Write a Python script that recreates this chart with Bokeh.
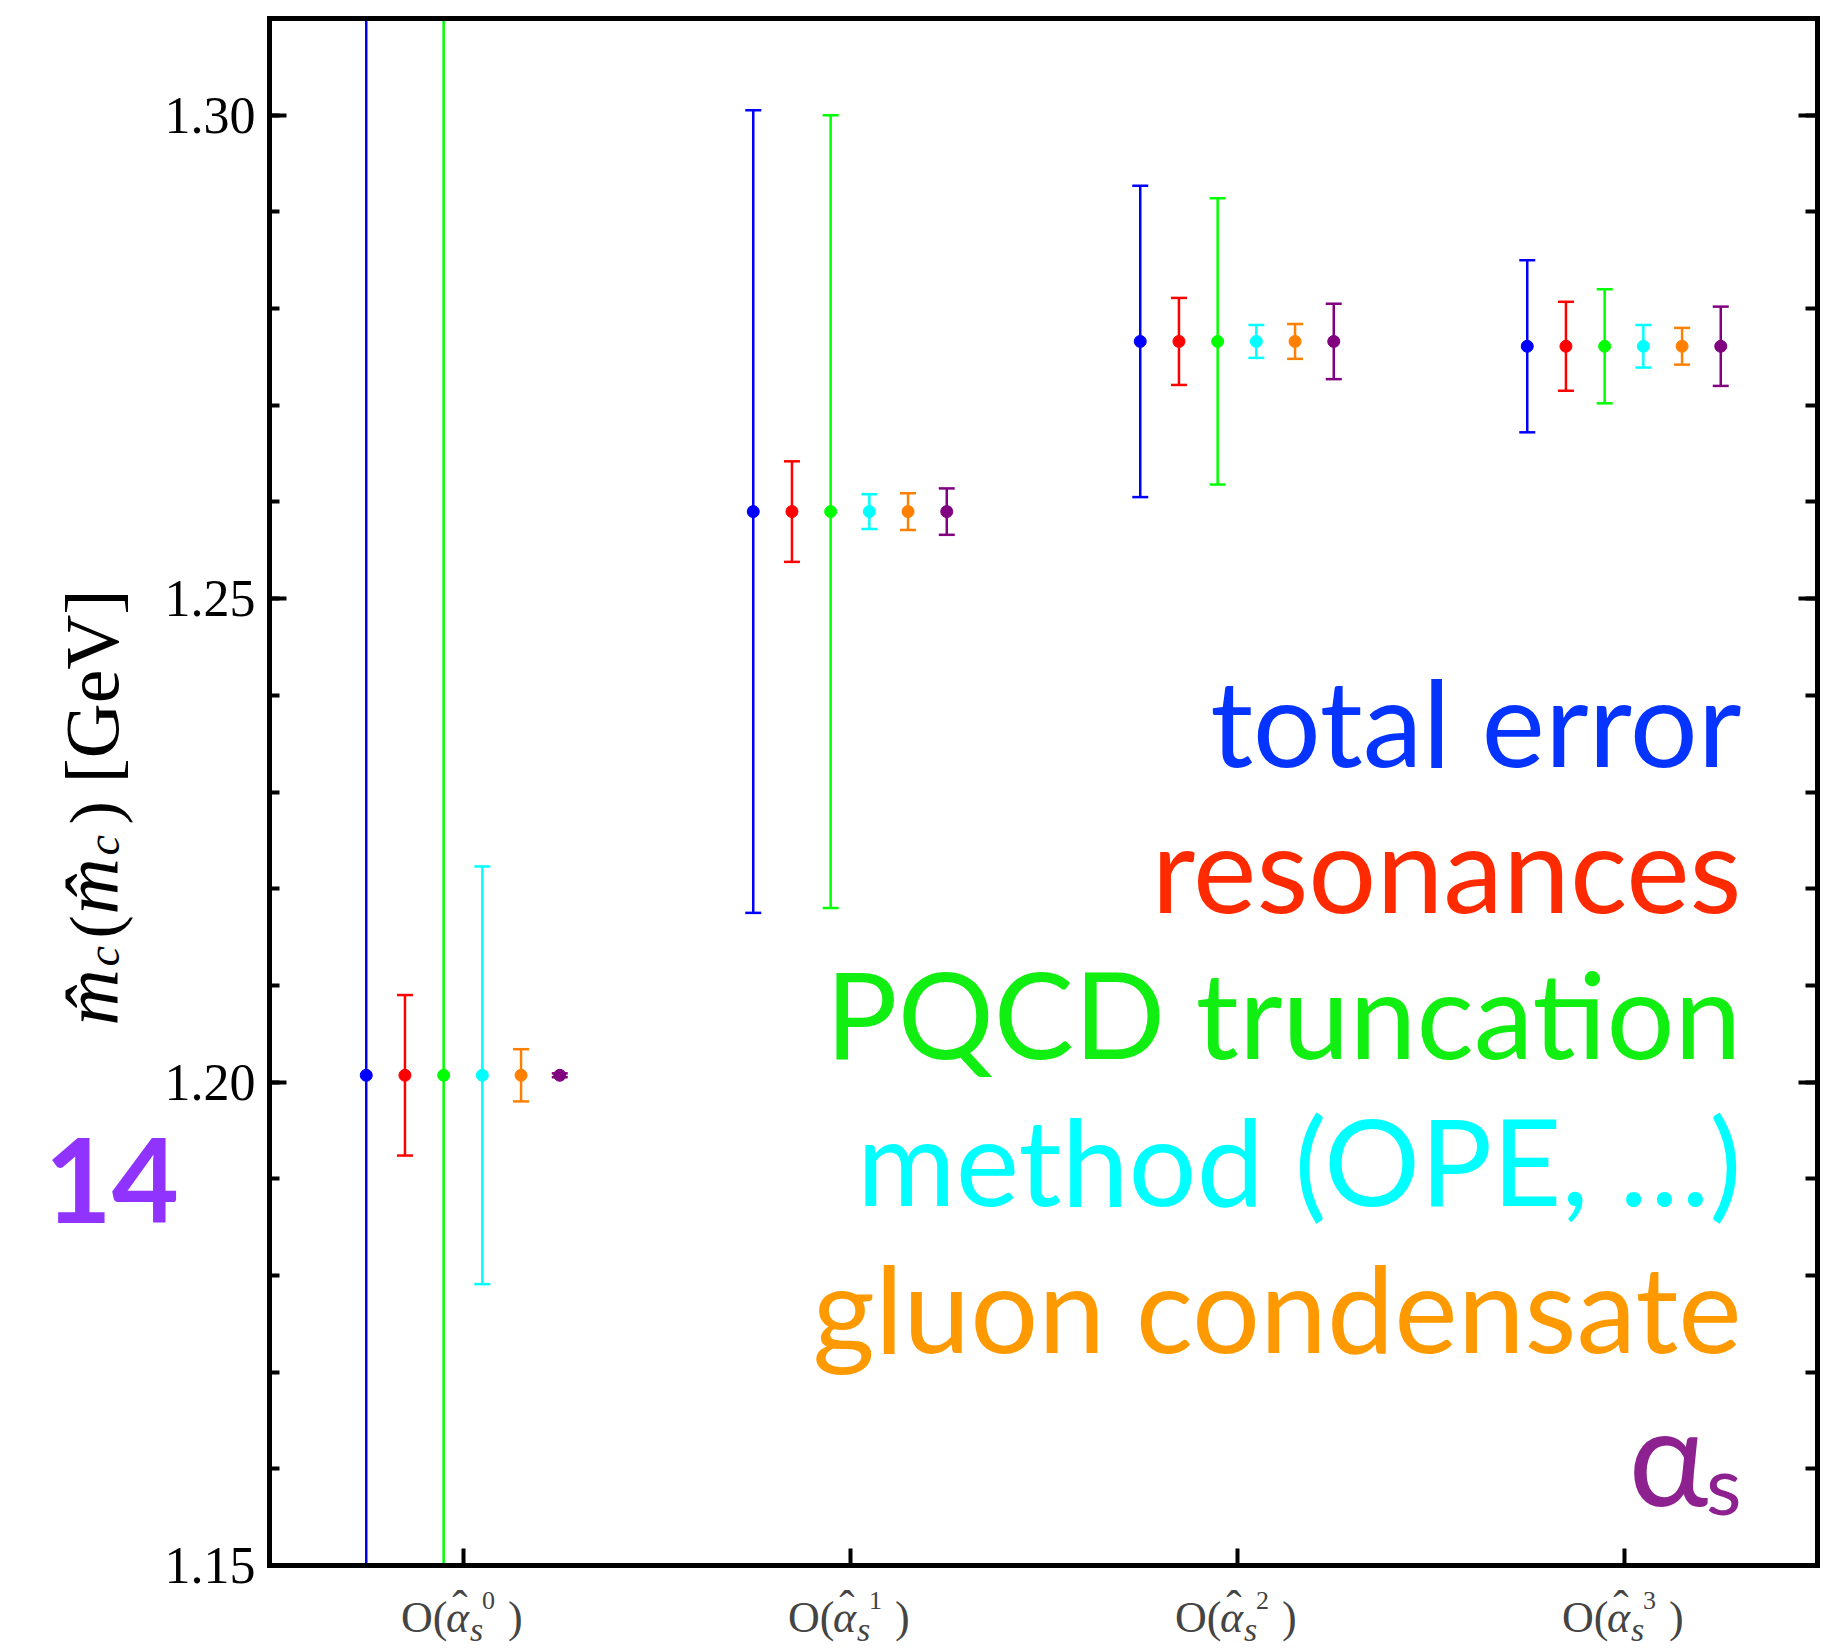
import math
from bokeh.plotting import figure
from bokeh.models import (Range1d, LinearAxis, FixedTicker, Label, ColumnDataSource,
                          NumeralTickFormatter, CustomJSTickFormatter)
from bokeh.embed import file_html
from bokeh.resources import INLINE

# ---------------- data ----------------
orders = [0, 1, 2, 3]
order_powers = ["0", "1", "2", "3"]
central = [1.2007, 1.2590, 1.2766, 1.2761]
series_names = ["total error", "resonances", "PQCD truncation",
                "method (OPE, \u2026)", "gluon condensate", "\u03b1s"]
err_total = [0.1203, 0.0415, 0.0161, 0.0089]
err_resonances = [0.0083, 0.0052, 0.0045, 0.0046]
err_pqcd = [0.1180, 0.0410, 0.0148, 0.0059]
err_method = [0.0216, 0.0018, 0.0017, 0.0022]
err_gluon = [0.0027, 0.0019, 0.0018, 0.0019]
err_alphas = [0.0002, 0.0024, 0.0039, 0.0041]
y_major_ticks = [1.15, 1.20, 1.25, 1.30]
y_minor_ticks = [round(1.15 + 0.01 * i, 2) for i in range(17)]
page_number = "14"

marker_colors = ["#0000FF", "#FF0000", "#00FF00", "#00FFFF", "#FF8000", "#800080"]
legend_colors = ["#0533FF", "#FF2A00", "#11EE11", "#00FFFF", "#FF9900", "#8E2190"]
errors = [err_total, err_resonances, err_pqcd, err_method, err_gluon, err_alphas]

# ---------------- layout ----------------
W, H = 1845, 1651
FL, FR, FT, FB = 269, 1817, 18, 1565      # pixel box of the plotting area
X0, X1 = -0.5, 3.5
Y0, Y1 = 1.15, 1.31
SX = (X1 - X0) / (FR - FL)
SY = (Y1 - Y0) / (FB - FT)


def X(px):
    return X0 + (px - FL) * SX


def Y(py):
    return Y0 + (FB - py) * SY


def BASE(py, fs):
    # anchor compensation for the alphabetic baseline
    return Y(py - 0.37 * fs)


p = figure(width=W, height=H, x_range=Range1d(X(0), X(W)), y_range=Range1d(Y(H), Y(0)),
           output_backend="svg", toolbar_location=None,
           x_axis_type=None, y_axis_type=None,
           min_border_left=0, min_border_right=0, min_border_top=0, min_border_bottom=0)
p.outline_line_color = None
p.background_fill_color = "white"
p.border_fill_color = "white"


def frame_axis(side, loc, bounds, ticks, minor, tin, minor_in, labels):
    ax = LinearAxis(fixed_location=loc, bounds=bounds,
                    ticker=FixedTicker(ticks=ticks, minor_ticks=minor),
                    formatter=NumeralTickFormatter(format="0.00") if labels
                    else CustomJSTickFormatter(code="return ''"))
    ax.axis_line_color = "black"
    ax.axis_line_width = 5
    ax.axis_line_cap = "square"
    ax.major_tick_in = tin
    ax.major_tick_out = 0
    ax.minor_tick_in = minor_in
    ax.minor_tick_out = 0
    ax.major_tick_line_width = 4
    ax.minor_tick_line_width = 4
    ax.major_tick_line_color = "black"
    ax.minor_tick_line_color = "black"
    ax.major_label_text_color = "black"
    ax.major_label_text_font = "Liberation Serif"
    ax.major_label_text_font_size = "52px"
    ax.major_label_standoff = 14 if labels else 0
    p.add_layout(ax, side)
    return ax


frame_axis("left", X0, (Y0, Y1), y_major_ticks, y_minor_ticks, 17, 10, True)
frame_axis("right", X1, (Y0, Y1), y_major_ticks, y_minor_ticks, 19, 12, False)
frame_axis("below", Y0, (X0, X1), orders, [], 17, 0, False)
frame_axis("above", Y1, (X0, X1), [], [], 0, 0, False)

# ---------------- error bars (drawn inside the visible window) ----------------
for i, (col, err) in enumerate(zip(marker_colors, errors)):
    xs = [o - 0.25 + 0.1 * i for o in orders]
    lo = [c - e for c, e in zip(central, err)]
    hi = [c + e for c, e in zip(central, err)]
    bar = ColumnDataSource(dict(x=xs, lo=[max(v, Y0) for v in lo], hi=[min(v, Y1) for v in hi]))
    p.segment(x0="x", y0="lo", x1="x", y1="hi", source=bar, line_color=col, line_width=2.5)
    caps_x = [x for x, v in zip(xs, lo) if v >= Y0] + [x for x, v in zip(xs, hi) if v <= Y1]
    caps_y = [v for v in lo if v >= Y0] + [v for v in hi if v <= Y1]
    p.scatter(x=caps_x, y=caps_y, marker="dash", size=16, line_color=col, line_width=2.5)
    p.scatter(x=xs, y=central, marker="circle", size=12, fill_color=col,
              line_color=col, line_width=1)

# ---------------- x tick labels  O(α̂_s^n) ----------------
SERIF = "Liberation Serif"
for o, pw in zip(orders, order_powers):
    p.add_layout(Label(x=o - 62 * SX, y=BASE(1633, 44), text="O(", text_font=SERIF,
                       text_font_size="44px", text_baseline="alphabetic"))
    p.add_layout(Label(x=o - 17 * SX, y=BASE(1633, 44), text="\u03b1", text_font=SERIF,
                       text_font_style="italic", text_font_size="44px",
                       text_baseline="alphabetic"))
    p.add_layout(Label(x=o - 3 * SX, y=BASE(1624, 46), text="\u02c6", text_font=SERIF,
                       text_font_size="46px", text_align="center",
                       text_baseline="alphabetic"))
    p.add_layout(Label(x=o + 7 * SX, y=BASE(1642, 34), text="s", text_font=SERIF,
                       text_font_style="italic", text_font_size="34px",
                       text_baseline="alphabetic"))
    p.add_layout(Label(x=o + 19 * SX, y=BASE(1610, 26), text=pw, text_font=SERIF,
                       text_font_size="26px", text_baseline="alphabetic"))
    p.add_layout(Label(x=o + 45 * SX, y=BASE(1633, 44), text=")", text_font=SERIF,
                       text_font_size="44px", text_baseline="alphabetic"))

# ---------------- y axis label  m̂_c(m̂_c) [GeV] ----------------
rot = math.pi / 2
ylab_parts = [
    (1025, 120, "m\u0302", "italic", 78),
    (966, 120, "c", "italic", 46),
    (938, 120, "(", "normal", 70),
    (914, 120, "m\u0302", "italic", 78),
    (855, 120, "c", "italic", 46),
    (824, 120, ")", "normal", 70),
    (783, 120, "[GeV]", "normal", 76),
]
for ypx, xpx, t, st, fs in ylab_parts:
    p.add_layout(Label(x=X(xpx - 0.37 * fs), y=Y(ypx), text=t, angle=rot, text_font=SERIF,
                       text_font_style=st, text_font_size=f"{fs}px", text_color="black",
                       text_baseline="alphabetic", text_align="left"))

# ---------------- page number ----------------
p.add_layout(Label(x=X(44), y=BASE(1223, 116), text=page_number, text_font="Lato",
                   text_font_style="bold", text_font_size="116px", text_color="#9033FF",
                   text_baseline="alphabetic"))

# ---------------- legend text ----------------
baselines = [765, 911, 1057, 1204, 1351]
for name, col, b in zip(series_names[:5], legend_colors[:5], baselines):
    p.add_layout(Label(x=X(1741), y=BASE(b, 120), text=name, text_font="Lato",
                       text_font_size="120px", text_color=col, text_align="right",
                       text_baseline="alphabetic"))
# alpha_s
p.add_layout(Label(x=X(1628), y=BASE(1503, 135), text=series_names[5][0], text_font="Lato",
                   text_font_size="135px", text_color=legend_colors[5],
                   text_baseline="alphabetic"))
p.add_layout(Label(x=X(1741), y=BASE(1513, 82), text=series_names[5][1], text_font="Lato",
                   text_font_size="82px", text_color=legend_colors[5], text_align="right",
                   text_baseline="alphabetic"))

open("out.html", "w").write(file_html(p, INLINE))
